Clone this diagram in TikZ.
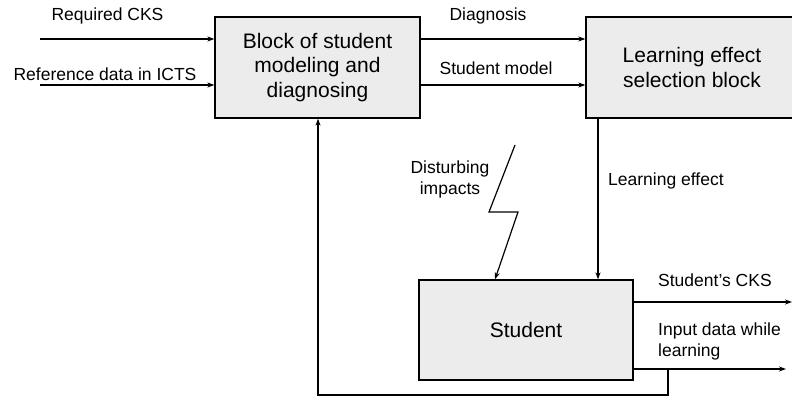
\documentclass[tikz,border=0pt]{standalone}
\usepackage{fontspec}
\setmainfont{Liberation Sans}
\usetikzlibrary{arrows.meta}

\begin{document}
\begin{tikzpicture}[
        x=1pt, y=-1pt,
        box/.style={rectangle, draw=black, line width=1.3pt, fill=gray!15, align=center, inner sep=0pt, font=\fontsize{21}{24.5}\selectfont},
        lbl/.style={inner sep=0pt, align=left, font=\fontsize{17.5}{21}\selectfont},
        arrow/.style={line width=1.2pt, -{Stealth[length=7pt,width=5pt]}}
    ]
        \useasboundingbox (0,0) rectangle (792,396);

        \node (model) [box, minimum width=205pt, minimum height=101pt] at (317.5,67.5) {Block of student\\modeling and\\diagnosing};
        \node (select) [box, minimum width=212pt, minimum height=101pt] at (692,67.5) {Learning effect\\selection block};
        \node (student) [box, minimum width=214pt, minimum height=100pt] at (526,330) {Student};

        % free ends of the outer arrows
        \coordinate (cks in) at (40,39);
        \coordinate (ref in) at (40,85);
        \coordinate (cks out) at (792,302);
        \coordinate (data out) at (786,369);
        \coordinate (effect) at (598,0);
        \coordinate (tap) at (668,369);
        \coordinate (loop) at (318,395);
        \coordinate (bolt) at (515,145);
        \coordinate (hit) at (495,0);

        \draw[arrow] (cks in) -- (cks in -| model.west);
        \draw[arrow] (ref in) -- (ref in -| model.west);
        \draw[arrow] (model.east |- cks in) -- (select.west |- cks in);
        \draw[arrow] (model.east |- ref in) -- (select.west |- ref in);
        \draw[arrow] (select.south -| effect) -- (student.north -| effect);
        \draw[arrow] (student.east |- cks out) -- (cks out);
        \draw[arrow] (student.east |- data out) -- (data out);
        \draw[arrow] (tap) |- (loop) -- (model.south -| loop);
        \draw[arrow] (bolt) -- ++(-26,67) -- ++(29,0) -- (student.north -| hit);

        \node (l1) [lbl] at (107.5,16) {Required CKS};
        \node (l2) [lbl] at (105,74) {Reference data in ICTS};
        \node (l3) [lbl] at (488,16) {Diagnosis};
        \node (l4) [lbl] at (496,68) {Student model};
        \node (l5) [lbl, align=center] at (450,179) {Disturbing\\impacts};
        \node (l6) [lbl, anchor=west] at (608,181) {Learning effect};
        \node (l7) [lbl, anchor=west] at (658,280) {Student's CKS};
        \node (l8) [lbl, anchor=west] at (658,341) {Input data while\\learning};
    \end{tikzpicture}
\end{document}
